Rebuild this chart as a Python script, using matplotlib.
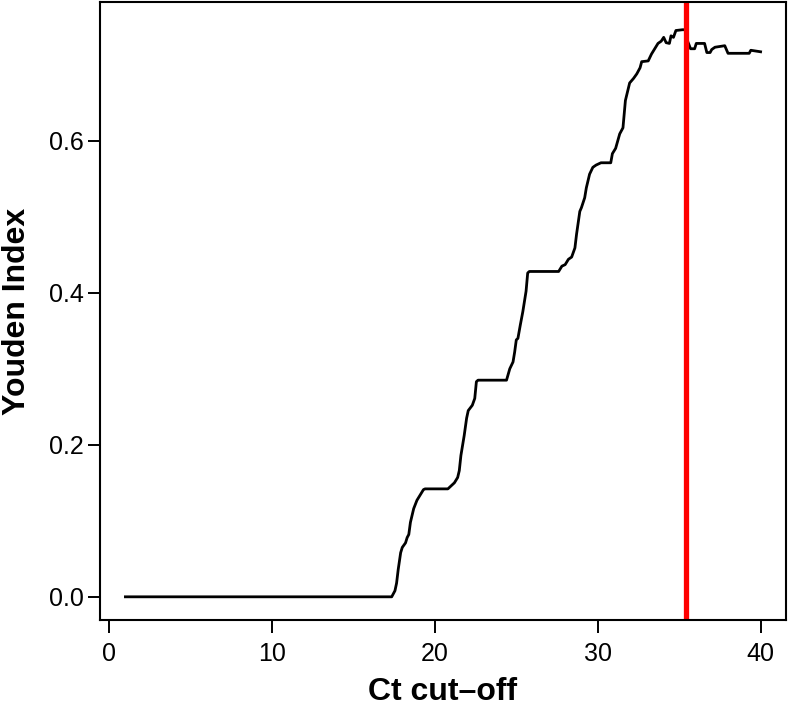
import matplotlib
matplotlib.use("Agg")
import matplotlib.pyplot as plt

ct_cutoff = [1.0, 17.35, 17.55, 17.65, 17.75, 17.9, 18.0, 18.2, 18.3, 18.4, 18.5, 18.6, 18.7,
             18.9, 19.1, 19.3, 19.4, 20.8, 21.0, 21.2, 21.4, 21.5, 21.6, 21.8, 21.95, 22.05,
             22.3, 22.45, 22.55, 22.65, 24.4, 24.6, 24.8, 24.9, 25.0, 25.1, 25.25, 25.4, 25.6,
             25.7, 25.8, 27.6, 27.8, 28.0, 28.2, 28.4, 28.6, 28.7, 28.9, 29.0, 29.2, 29.3,
             29.5, 29.7, 29.9, 30.2, 30.8, 30.9, 31.1, 31.35, 31.55, 31.7, 31.96, 32.2, 32.4,
             32.6, 32.7, 33.1, 33.3, 33.5, 33.7, 33.9, 34.05, 34.2, 34.4, 34.5, 34.65, 34.8,
             35.2, 35.4, 35.5, 35.7, 35.95, 36.05, 36.56, 36.7, 36.9, 37.0, 37.2, 37.8, 38.0,
             39.3, 39.4, 40.0]
youden = [0.0, 0.0, 0.008, 0.018, 0.036, 0.058, 0.065, 0.071, 0.078, 0.082, 0.098, 0.107, 0.116,
          0.127, 0.134, 0.141, 0.142, 0.142, 0.146, 0.150, 0.157, 0.166, 0.186, 0.212, 0.235, 0.245,
          0.252, 0.261, 0.283, 0.285, 0.285, 0.300, 0.309, 0.322, 0.338, 0.340, 0.358, 0.375, 0.402,
          0.426, 0.428, 0.428, 0.435, 0.437, 0.444, 0.447, 0.459, 0.477, 0.507, 0.512, 0.525, 0.538,
          0.556, 0.565, 0.568, 0.571, 0.571, 0.583, 0.590, 0.609, 0.617, 0.653, 0.676, 0.682, 0.688,
          0.696, 0.704, 0.705, 0.714, 0.721, 0.728, 0.731, 0.736, 0.729, 0.728, 0.738, 0.736, 0.745,
          0.746, 0.746, 0.732, 0.721, 0.721, 0.728, 0.728, 0.716, 0.716, 0.720, 0.723, 0.725, 0.715,
          0.715, 0.719, 0.717]
best_cutoff = 35.4

x_ticks = [0, 10, 20, 30, 40]
y_ticks = [0.0, 0.2, 0.4, 0.6]
y_tick_labels = ["0.0", "0.2", "0.4", "0.6"]

plt.rcParams['font.family'] = ['Liberation Sans', 'DejaVu Sans']

fig = plt.figure(figsize=(7.88, 7.09), dpi=100)
ax = fig.add_axes([100/788, 1 - 620/709, 686/788, 618/709])

ax.plot(ct_cutoff, youden, color='black', linewidth=2.0, solid_joinstyle='round')
ax.axvline(best_cutoff, color='#ff0000', linewidth=3.8)

ax.set_xlim(-0.56, 41.56)
ax.set_ylim(-0.0305, 0.7825)
ax.set_xticks(x_ticks)
ax.set_xticklabels([str(t) for t in x_ticks])
ax.set_yticks(y_ticks)
ax.set_yticklabels(y_tick_labels)
ax.tick_params(direction='out', length=9, width=1.4, labelsize=18, colors='black')
ax.tick_params(axis='x', pad=7)
ax.tick_params(axis='y', pad=2.5)
for s in ax.spines.values():
    s.set_linewidth(1.5)

ax.set_xlabel("Ct cut\u2013off", fontsize=23, fontweight='bold', va='baseline')
ax.xaxis.set_label_coords(0.5, (620 - 700) / 618)
ax.set_ylabel("Youden Index", fontsize=23, fontweight='bold', va='center')
ax.yaxis.set_label_coords(-(100 - 17) / 686, 0.5)

fig.savefig("out.png", dpi=100)
